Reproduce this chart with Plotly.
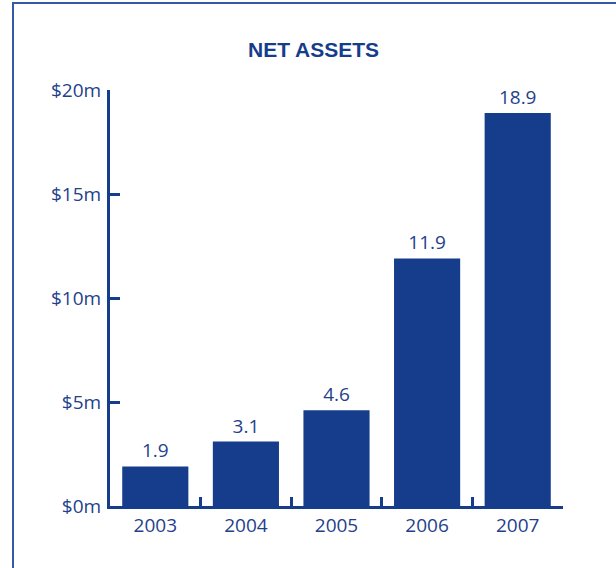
import plotly.graph_objects as go

# Net assets by year, in $ millions
years = ["2003", "2004", "2005", "2006", "2007"]
net_assets = [1.9, 3.1, 4.6, 11.9, 18.9]
y_ticks = [0, 5, 10, 15, 20]
y_tick_labels = ["$0m", "$5m", "$10m", "$15m", "$20m"]

NAVY = "#163d8b"
TEXT = "#1f418c"
FRAME = "#3559a6"
LABEL_FONT = "Open Sans"

W, H = 616, 568
L, R, T, B = 110, 53, 90, 62
pw, ph = W - L - R, H - T - B


def px_x(x):
    return (x - L) / pw


def px_y(y):
    return (H - B - y) / ph


fig = go.Figure(
    go.Bar(
        x=years,
        y=net_assets,
        marker=dict(color=NAVY, line=dict(width=0)),
        text=[f"{v:.1f}" for v in net_assets],
        textposition="outside",
        textfont=dict(family=LABEL_FONT, size=19, color=TEXT),
        cliponaxis=False,
        hoverinfo="skip",
    )
)

fig.update_layout(
    width=W,
    height=H,
    margin=dict(l=L, r=R, t=T, b=B),
    paper_bgcolor="white",
    plot_bgcolor="white",
    bargap=0.27,
    showlegend=False,
    font=dict(family=LABEL_FONT, size=19, color=TEXT),
    annotations=[
        dict(
            text="<b>NET ASSETS</b>",
            x=px_x(313.5),
            y=px_y(50),
            xref="paper",
            yref="paper",
            xanchor="center",
            yanchor="middle",
            showarrow=False,
            font=dict(family="Liberation Sans, Arial", size=21, color=NAVY),
        )
    ],
    shapes=[
        # page frame: left and top rules
        dict(type="line", xref="paper", yref="paper",
             x0=px_x(13), x1=px_x(13), y0=px_y(3), y1=px_y(H + 5),
             line=dict(color=FRAME, width=2)),
        dict(type="line", xref="paper", yref="paper",
             x0=px_x(12), x1=px_x(W + 5), y0=px_y(3), y1=px_y(3),
             line=dict(color=FRAME, width=2)),
    ],
)

fig.update_xaxes(
    type="category",
    range=[-0.5, 4.5],
    showline=True,
    linecolor=NAVY,
    linewidth=3,
    ticks="inside",
    tickson="boundaries",
    ticklen=9,
    tickwidth=2.5,
    tickcolor=NAVY,
    ticklabelstandoff=0,
    tickfont=dict(family=LABEL_FONT, size=19, color=TEXT),
    showgrid=False,
    zeroline=False,
    fixedrange=True,
)

fig.update_yaxes(
    range=[0, 20],
    tickmode="array",
    tickvals=y_ticks,
    ticktext=y_tick_labels,
    showline=True,
    linecolor=NAVY,
    linewidth=3,
    ticks="inside",
    ticklen=10,
    tickwidth=2.5,
    tickcolor=NAVY,
    ticklabelstandoff=2,
    tickfont=dict(family=LABEL_FONT, size=19, color=TEXT),
    showgrid=False,
    zeroline=False,
    fixedrange=True,
)

fig.write_html("out.html", config=dict(displayModeBar=False))
